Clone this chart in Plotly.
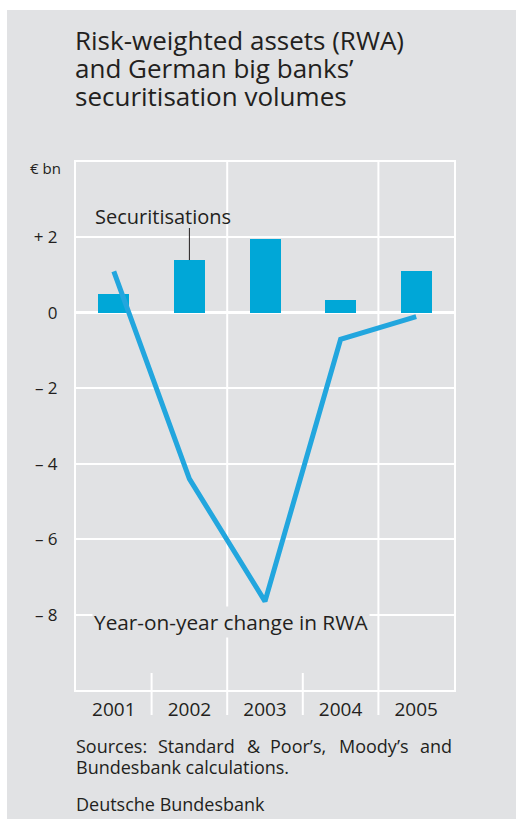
import plotly.graph_objects as go

years = ["2001", "2002", "2003", "2004", "2005"]
securitisations = [0.5, 1.4, 1.95, 0.35, 1.1]
rwa_change = [1.1, -4.4, -7.65, -0.7, -0.1]
ytick_vals = [2, 0, -2, -4, -6, -8]
ytick_text = ["+ 2", "0", "\u2013 2", "\u2013 4", "\u2013 6", "\u2013 8"]
source_words = ["Sources:", "Standard", "&", "Poor\u2019s,", "Moody\u2019s", "and"]

W, H = 516, 819
L, R, T, B = 76, 454, 162, 690
BG = "#e1e2e4"
TXT = "#231f20"
FONT = "Open Sans"

def px(x):
    return (x - L) / (R - L)

def py(y):
    return (B - y) / (B - T)

fig = go.Figure()
fig.add_trace(go.Bar(x=years, y=securitisations, width=0.41,
                     marker=dict(color="#00a7d7", line=dict(width=0)),
                     showlegend=False, hoverinfo="skip"))
fig.add_trace(go.Scatter(x=years, y=rwa_change, mode="lines",
                         line=dict(color="#22a6de", width=5),
                         showlegend=False, hoverinfo="skip"))

shapes = []
shapes.append(dict(type="rect", xref="paper", yref="paper", x0=px(-5), x1=px(7),
                   y0=py(H + 5), y1=py(-5), fillcolor="white", line=dict(width=0), layer="below"))
shapes.append(dict(type="rect", xref="paper", yref="paper", x0=px(-5), x1=px(W + 5),
                   y0=py(10), y1=py(-5), fillcolor="white", line=dict(width=0), layer="below"))
for xb, full in [(0.2, False), (0.4, True), (0.6, False), (0.8, True)]:
    shapes.append(dict(type="line", xref="paper", yref="paper", x0=xb, x1=xb,
                       y0=(1 if full else py(673)), y1=py(715),
                       line=dict(color="white", width=2), layer="below"))
shapes.append(dict(type="line", xref="x", yref="y", x0=1, x1=1, y0=1.4, y1=2.25,
                   line=dict(color=TXT, width=1)))

annotations = []
titles = ["Risk-weighted assets (RWA)", "and German big banks\u2019", "securitisation volumes"]
for i, t in enumerate(titles):
    annotations.append(dict(text=t, xref="paper", yref="paper", x=px(73), y=py(40 + 28 * i),
                            xanchor="left", yanchor="middle", showarrow=False,
                            font=dict(family=FONT, size=26, color=TXT)))
annotations.append(dict(text="\u20ac bn", xref="paper", yref="paper", x=px(63), y=py(168),
                        xanchor="right", yanchor="middle", showarrow=False,
                        font=dict(family=FONT, size=15, color=TXT)))
annotations.append(dict(text="Securitisations", xref="paper", yref="paper", x=px(93), y=py(217),
                        xanchor="left", yanchor="middle", showarrow=False,
                        font=dict(family=FONT, size=20, color=TXT)))
annotations.append(dict(text="Year-on-year change in RWA", xref="paper", yref="paper",
                        x=px(92), y=py(622), xanchor="left", yanchor="middle", showarrow=False,
                        bgcolor=BG, borderpad=1,
                        font=dict(family=FONT, size=20.8, color=TXT)))
# justified first source line
src_x = [74, 156, 245, 268, 337, 454]
for i, (w, xx) in enumerate(zip(source_words, src_x)):
    anchor = "left" if i < len(source_words) - 1 else "right"
    annotations.append(dict(text=w, xref="paper", yref="paper", x=px(xx), y=py(746),
                            xanchor=anchor, yanchor="middle", showarrow=False,
                            font=dict(family=FONT, size=18, color=TXT)))
annotations.append(dict(text="Bundesbank calculations.", xref="paper", yref="paper", x=px(74), y=py(767),
                        xanchor="left", yanchor="middle", showarrow=False,
                        font=dict(family=FONT, size=18, color=TXT)))
annotations.append(dict(text="Deutsche Bundesbank", xref="paper", yref="paper", x=px(74), y=py(804),
                        xanchor="left", yanchor="middle", showarrow=False,
                        font=dict(family=FONT, size=18, color=TXT)))

fig.update_layout(
    width=W, height=H,
    margin=dict(l=L, r=W - R, t=T, b=H - B, pad=0),
    paper_bgcolor=BG, plot_bgcolor=BG,
    shapes=shapes, annotations=annotations,
    bargap=0,
    font=dict(family=FONT, color=TXT),
    xaxis=dict(type="category", range=[-0.5, 4.5], showgrid=False, zeroline=False,
               showline=True, mirror=True, linecolor="white", linewidth=2,
               ticks="", tickfont=dict(size=19, color=TXT), ticklabelstandoff=1),
    yaxis=dict(range=[-10, 4], tickvals=ytick_vals, ticktext=ytick_text,
               showgrid=True, gridcolor="white", gridwidth=2,
               zeroline=True, zerolinecolor="white", zerolinewidth=3,
               showline=True, mirror=True, linecolor="white", linewidth=2,
               ticks="", tickfont=dict(size=17, color=TXT), ticklabelstandoff=13),
)

fig.write_html("out.html", config={"displayModeBar": False},
               post_script="document.body.style.margin='0px';document.body.style.overflow='hidden';")
